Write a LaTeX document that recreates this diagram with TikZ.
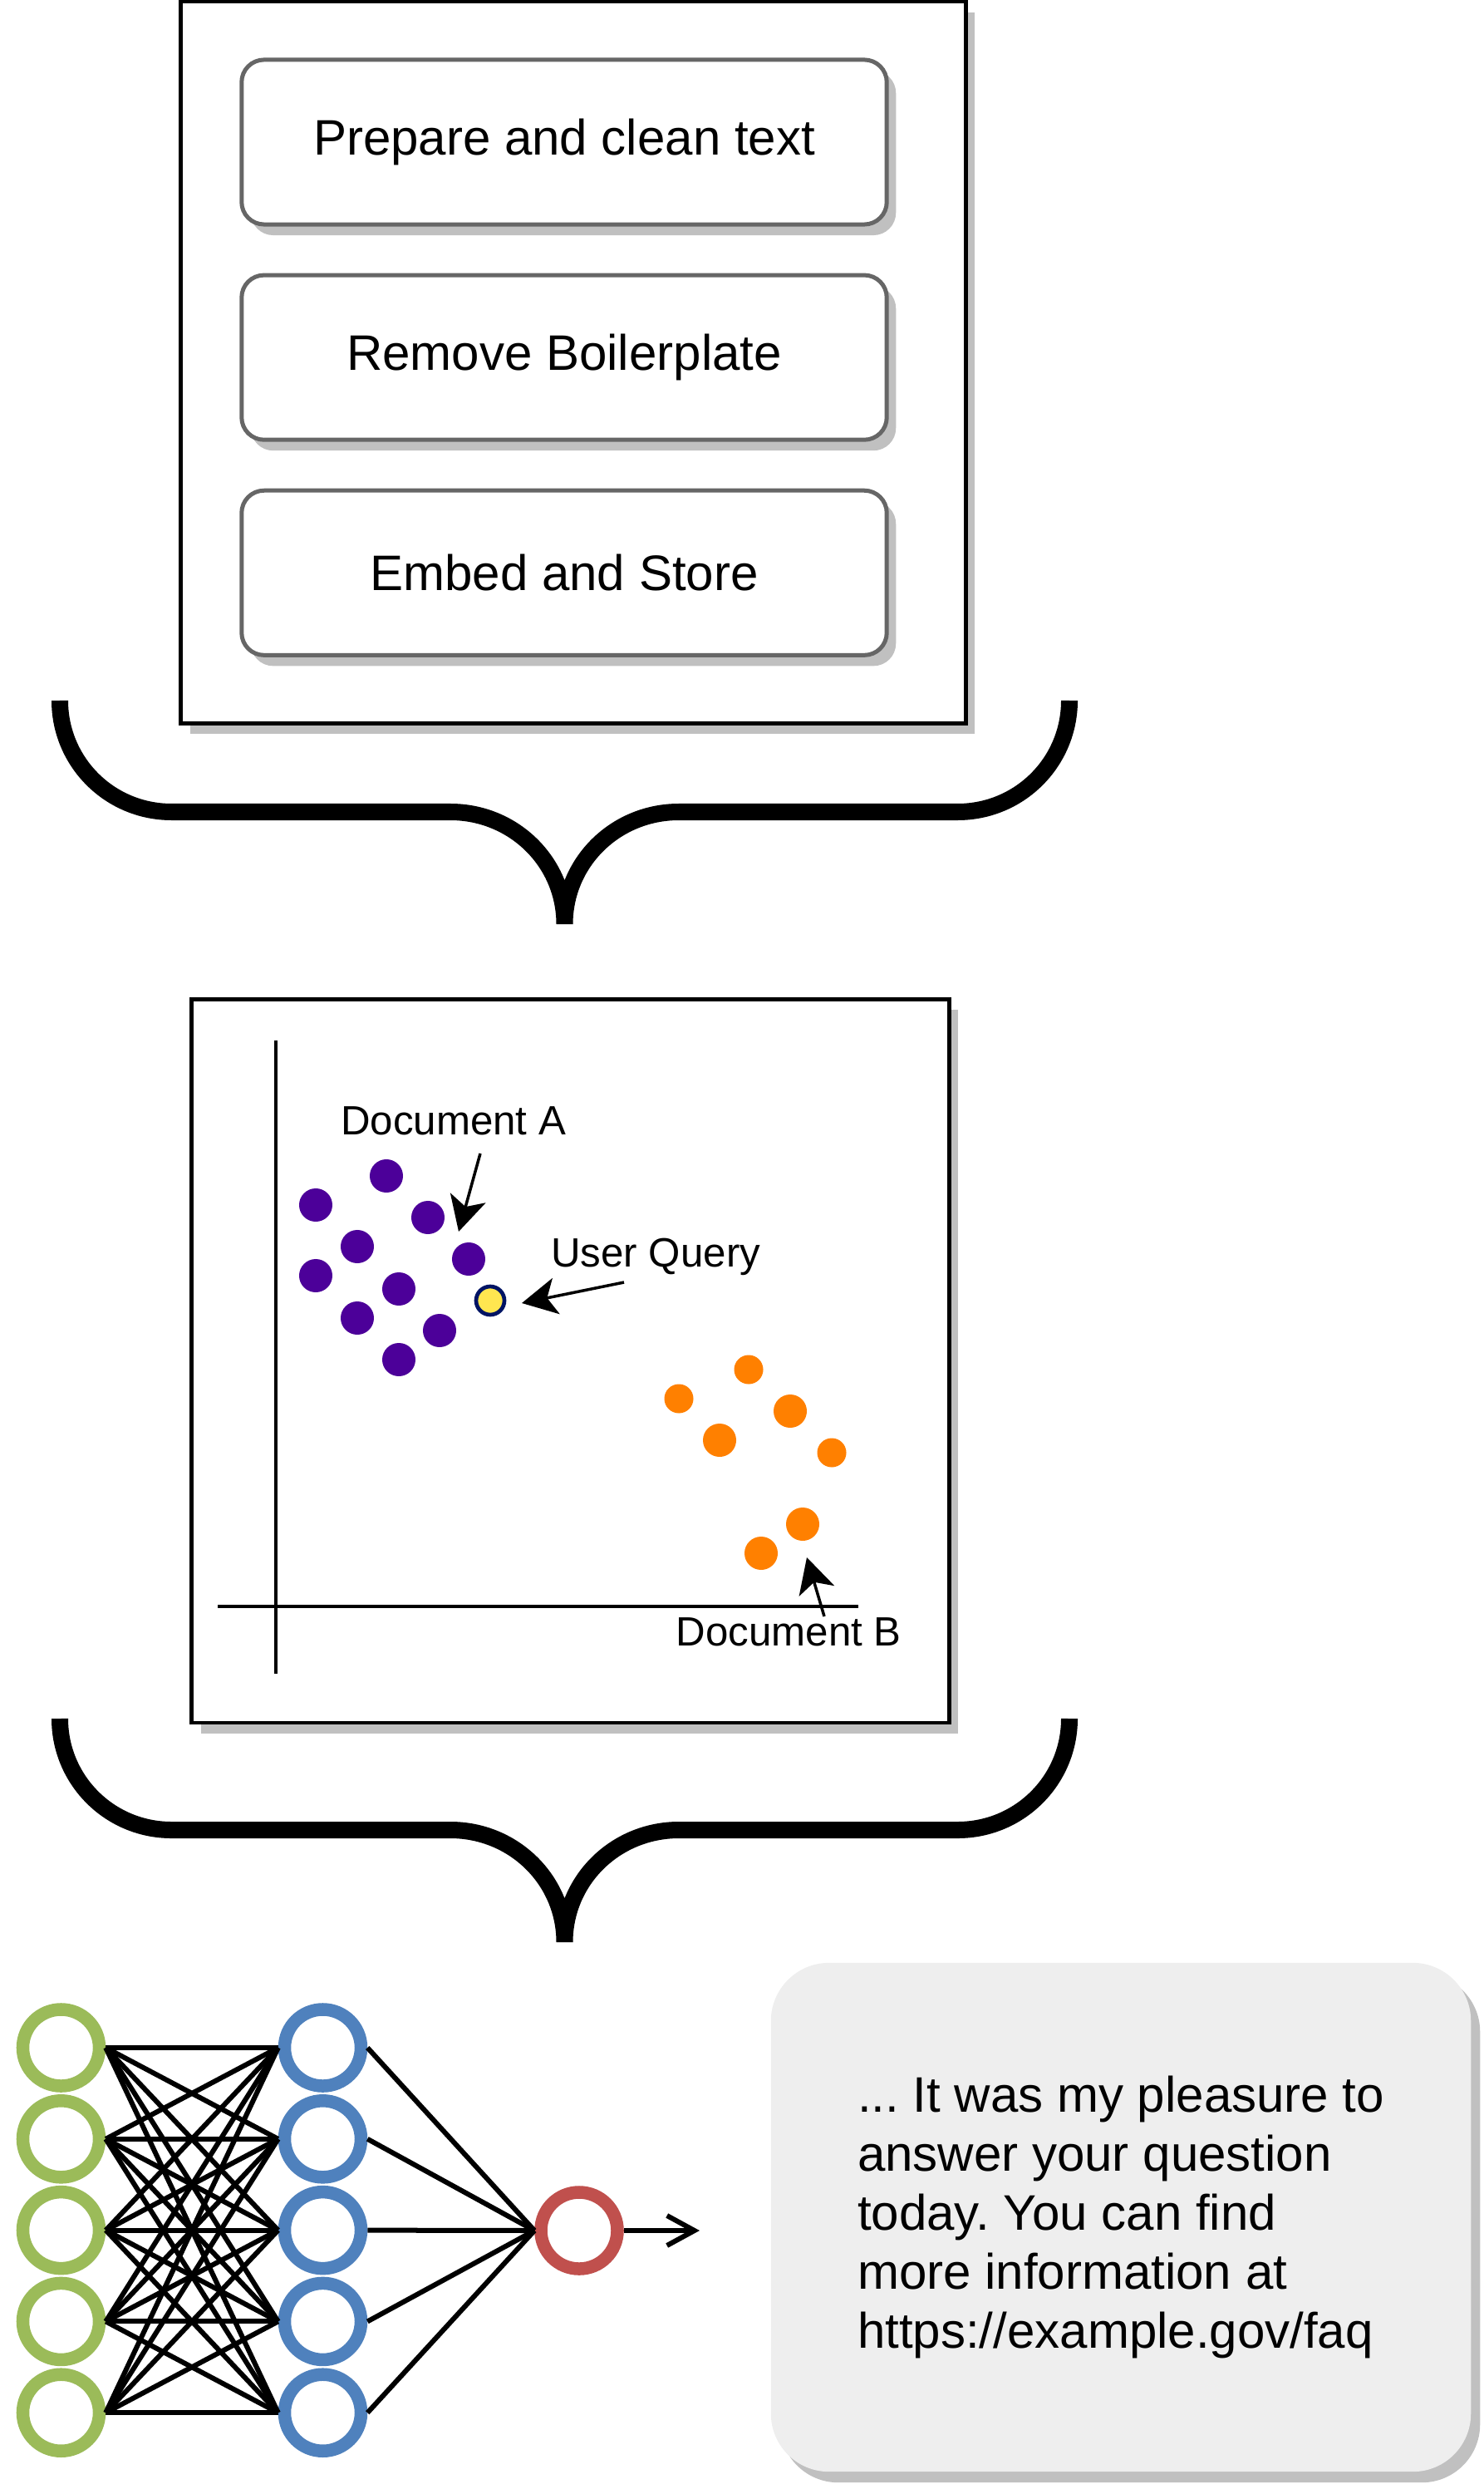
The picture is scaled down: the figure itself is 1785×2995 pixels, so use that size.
\documentclass[tikz,border=0pt]{standalone}
\usepackage{fontspec}
\setmainfont{Liberation Sans}
\usepackage{xcolor}
\usetikzlibrary{arrows.meta,positioning,shadows}
\definecolor{boxEdge}{HTML}{666666}
\definecolor{shadowGray}{HTML}{C0C0C0}
\definecolor{docPurple}{HTML}{4C0099}
\definecolor{docOrange}{HTML}{FF8000}
\definecolor{qYellow}{HTML}{FFE650}
\definecolor{qNavy}{HTML}{001464}
\definecolor{nnGreen}{HTML}{9BBB59}
\definecolor{nnBlue}{HTML}{4F81BD}
\definecolor{nnRed}{HTML}{C0504D}
\definecolor{replyFill}{HTML}{EEEEEE}
\newcommand{\bigtxt}{\fontsize{17.07}{20.2}\selectfont}
\newcommand{\smalltxt}{\fontsize{14}{17}\selectfont}
\frenchspacing

\begin{document}
\begin{tikzpicture}[x=0.01cm, y=-0.01cm,
  casts/.style={drop shadow={shadow xshift=0.11cm, shadow yshift=-0.13cm,
                             fill=shadowGray, opacity=1}},
  panel/.style={draw, line width=0.045cm, fill=white, casts, inner sep=0},
  stepbox/.style={draw=boxEdge, line width=0.05cm, rounded corners=0.27cm,
                  fill=white, casts, outer sep=0, minimum width=7.76cm,
                  minimum height=1.98cm, font=\bigtxt},
  curly/.style={line width=0.2cm, line cap=butt},
  axis/.style={line width=0.045cm},
  dotA/.style={circle, fill=docPurple, inner sep=0, minimum size=0.40cm},
  dotB/.style={circle, fill=docOrange, inner sep=0, minimum size=0.35cm},
  dotBig/.style={dotB, minimum size=0.40cm},
  query/.style={circle, fill=qYellow, draw=qNavy, line width=0.047cm,
                inner sep=0, minimum size=0.34cm},
  lbl/.style={font=\smalltxt, inner sep=0, anchor=base west},
  ptr/.style={-{Stealth[length=0.42cm, width=0.44cm, inset=0.11cm]},
              line width=0.035cm},
  neuron/.style={circle, draw, line width=0.155cm, minimum size=0.92cm,
                 inner sep=0},
  inp/.style={neuron, draw=nnGreen},
  hid/.style={neuron, draw=nnBlue},
  outp/.style={neuron, draw=nnRed},
  link/.style={line width=0.06cm},
  bubble/.style={fill=replyFill, rounded corners=0.7cm, casts,
                 minimum width=8.42cm, minimum height=6.12cm,
                 align=left, font=\bigtxt}]
  \useasboundingbox (0,0) rectangle (1785,2995);

  \node[panel, minimum width=9.44cm, minimum height=8.68cm] (prep) at (690,436) {};
  \node[stepbox] (clean) at (679,171) {Prepare and clean text};
  \node[stepbox, below=0.61cm of clean] (boiler) {Remove Boilerplate};
  \node[stepbox, below=0.61cm of boiler] (embed) {Embed and Store};

  \foreach \dy in {0,1225} {
    \draw[curly, shift={(0,\dy)}] (72,843) .. controls (72,917) and (132,977) .. (206.5,977)
      -- (542,977) .. controls (618,977) and (679.5,1037) .. (679.5,1112)
      (1287,843) .. controls (1287,917) and (1227,977) .. (1152.5,977)
      -- (817,977) .. controls (741,977) and (679.5,1037) .. (679.5,1112);
  }

  \node[panel, minimum width=9.11cm, minimum height=8.70cm] (space) at (686.5,1637.5) {};
  \draw[axis] (332,1252) -- (332,2013.5);
  \draw[axis] (262,1933) -- (1033,1933);

  \foreach \x/\y [count=\i] in {380/1450, 465/1415, 515/1465, 430/1500, 564/1515,
                                 380/1535, 480/1551, 430/1586, 529/1601, 480/1636}
    \node[dotA] (a\i) at (\x,\y) {};
  \node[query] (q) at (590,1565) {};
  \node[dotB] (b1) at (901,1648) {};
  \node[dotB] (b2) at (817,1683) {};
  \node[dotBig] (b3) at (951,1698) {};
  \node[dotBig] (b4) at (866,1733) {};
  \node[dotB] (b5) at (1001,1748) {};
  \node[dotBig] (b6) at (966,1834) {};
  \node[dotBig] (b7) at (916,1869) {};

  \node[lbl] (docA) at (409.5,1365.4) {Document A};
  \node[lbl] (userq) at (662.7,1524.7) {User Query};
  \node[lbl] (docB) at (813,1980.7) {Document B};
  \coordinate (fromA) at (578,1388);
  \coordinate (tipA) at (552,1482);
  \coordinate (fromQ) at (751,1543);
  \coordinate (tipQ) at (628,1568);
  \coordinate (fromB) at (992,1945);
  \coordinate (tipB) at (971,1874);
  \draw[ptr] (fromA) -- (tipA);
  \draw[ptr] (fromQ) -- (tipQ);
  \draw[ptr] (fromB) -- (tipB);

  \foreach \i in {1,...,5} {
    \node[inp] (g\i) at (73.5,{2464+109.8*(\i-1)}) {};
    \node[hid] (h\i) at (388.5,{2464+109.8*(\i-1)}) {};
  }
  \node[outp] (o) at (697,2684) {};
  \foreach \i in {1,...,5} {
    \foreach \j in {1,...,5}
      \draw[link] (g\i.east) -- (h\j.west);
    \draw[link] (h\i.east) -- (o.west);
  }
  \coordinate (res) at (842,2684);
  \draw[link, -{Straight Barb[length=0.33cm, width=0.36cm]}] (o.east) -- (res);

  \node[bubble] (reply) at (1349,2668) {... It was my pleasure to\\answer your question\\today. You can find\\more information at\\https://example.gov/faq};
\end{tikzpicture}
\end{document}
